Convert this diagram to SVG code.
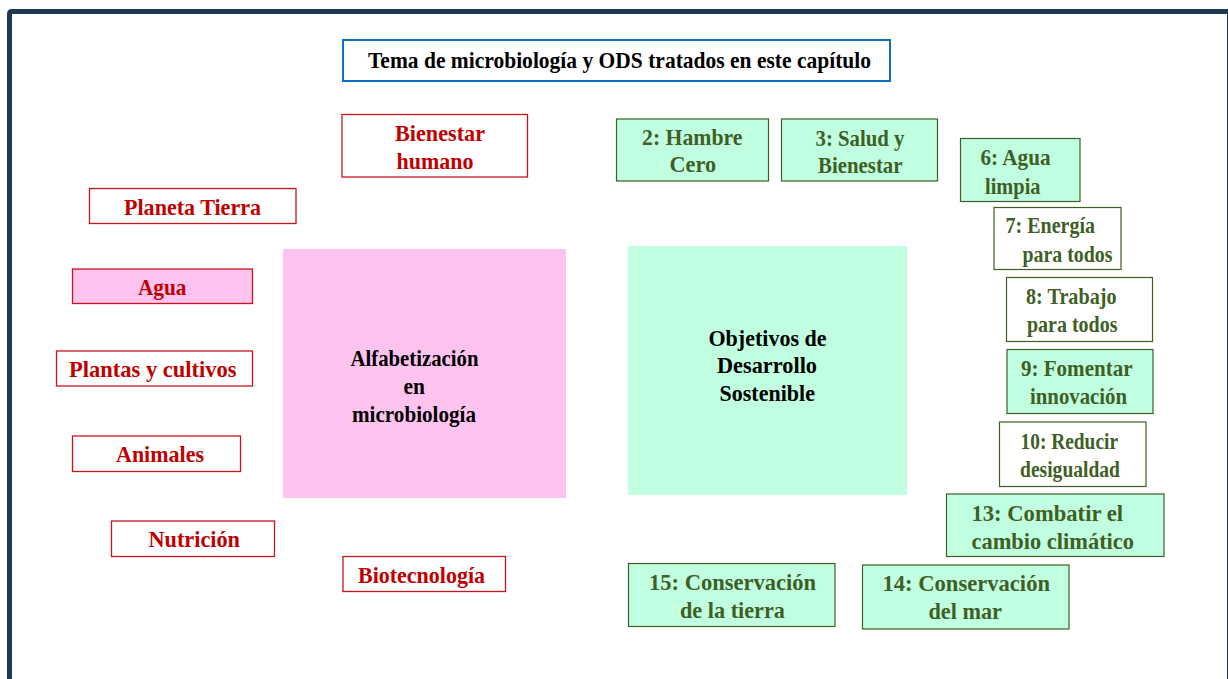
<svg xmlns="http://www.w3.org/2000/svg" width="1228" height="679" viewBox="0 0 1228 679">
<style>
text{font-family:"Liberation Serif","Times New Roman",serif;font-weight:700;font-size:23px}
.k{fill:#000}.r{fill:#c00000}.g{fill:#3f5f26}
.rb{stroke:#c8141c;stroke-width:1.3}
.gb{stroke:#3f5f26;stroke-width:1.2}
.w{fill:#fff}.p{fill:#ffc3ef}.m{fill:#c0ffe0}
</style>
<rect width="1228" height="679" fill="#fff"/>
<path d="M9.500 679V14Q9.500 11.500 12 11.500H1228" fill="none" stroke="#1f3852" stroke-width="5"/>
<path d="M1227.500 12V679" fill="none" stroke="#1f3852" stroke-width="1"/>
<g id="connectors"></g>
<g id="title"><rect x="343" y="40" width="547" height="41" class="w" stroke="#0b70c0" stroke-width="2"/><text x="368" y="68" class="k" textLength="503" lengthAdjust="spacingAndGlyphs">Tema de microbiología y ODS tratados en este capítulo</text></g>
<g id="alfabetizacion"><rect x="283" y="249" width="283" height="249" class="p"/><text x="350.500" y="366" class="k" textLength="128" lengthAdjust="spacingAndGlyphs">Alfabetización</text><text x="403.500" y="394" class="k" textLength="21.500" lengthAdjust="spacingAndGlyphs">en</text><text x="352" y="422" class="k" textLength="124" lengthAdjust="spacingAndGlyphs">microbiología</text></g>
<g id="ods"><rect x="628" y="246" width="279" height="249" class="m"/><text x="708.500" y="346" class="k" textLength="118" lengthAdjust="spacingAndGlyphs">Objetivos de</text><text x="717" y="373" class="k" textLength="100" lengthAdjust="spacingAndGlyphs">Desarrollo</text><text x="719.500" y="401" class="k" textLength="95.500" lengthAdjust="spacingAndGlyphs">Sostenible</text></g>
<g id="bienestar"><rect x="342" y="114.500" width="185.500" height="62.500" class="w rb"/><text x="395" y="141" class="r" textLength="90" lengthAdjust="spacingAndGlyphs">Bienestar</text><text x="396.500" y="169" class="r" textLength="77" lengthAdjust="spacingAndGlyphs">humano</text></g>
<g id="planeta"><rect x="89.500" y="188.500" width="206.500" height="35" class="w rb"/><text x="124" y="215" class="r" textLength="137" lengthAdjust="spacingAndGlyphs">Planeta Tierra</text></g>
<g id="agua"><rect x="72.500" y="269" width="180" height="34.500" class="p rb"/><text x="138" y="295" class="r" textLength="48.500" lengthAdjust="spacingAndGlyphs">Agua</text></g>
<g id="plantas"><rect x="56.500" y="351" width="196" height="35" class="w rb"/><text x="69" y="377" class="r" textLength="167.500" lengthAdjust="spacingAndGlyphs">Plantas y cultivos</text></g>
<g id="animales"><rect x="72.500" y="436" width="168" height="35.500" class="w rb"/><text x="116" y="462" class="r" textLength="88" lengthAdjust="spacingAndGlyphs">Animales</text></g>
<g id="nutricion"><rect x="111.500" y="521" width="163" height="35.500" class="w rb"/><text x="148.500" y="547" class="r" textLength="91.500" lengthAdjust="spacingAndGlyphs">Nutrición</text></g>
<g id="biotecnologia"><rect x="343" y="556.500" width="162.500" height="35" class="w rb"/><text x="358" y="583" class="r" textLength="127" lengthAdjust="spacingAndGlyphs">Biotecnología</text></g>
<g id="ods2"><rect x="616.500" y="119" width="152" height="62" class="m gb"/><text x="642" y="145" class="g" textLength="100.500" lengthAdjust="spacingAndGlyphs">2: Hambre</text><text x="669.500" y="172" class="g" textLength="46.500" lengthAdjust="spacingAndGlyphs">Cero</text></g>
<g id="ods3"><rect x="781.500" y="119" width="156" height="62" class="m gb"/><text x="815.500" y="146" class="g" textLength="89" lengthAdjust="spacingAndGlyphs">3: Salud y</text><text x="818" y="173" class="g" textLength="84.500" lengthAdjust="spacingAndGlyphs">Bienestar</text></g>
<g id="ods6"><rect x="960.500" y="138.500" width="119.500" height="63" class="m gb"/><text x="980.500" y="165" class="g" textLength="70" lengthAdjust="spacingAndGlyphs">6: Agua</text><text x="985" y="194" class="g" textLength="55.500" lengthAdjust="spacingAndGlyphs">limpia</text></g>
<g id="ods7"><rect x="994" y="207.500" width="127" height="62" class="w gb"/><text x="1005.500" y="233" class="g" textLength="89.500" lengthAdjust="spacingAndGlyphs">7: Energía</text><text x="1022.500" y="262" class="g" textLength="90" lengthAdjust="spacingAndGlyphs">para todos</text></g>
<g id="ods8"><rect x="1006.500" y="277.500" width="146" height="64" class="w gb"/><text x="1026" y="304" class="g" textLength="90.500" lengthAdjust="spacingAndGlyphs">8: Trabajo</text><text x="1027" y="332" class="g" textLength="90.500" lengthAdjust="spacingAndGlyphs">para todos</text></g>
<g id="ods9"><rect x="1007" y="349.500" width="146" height="64" class="m gb"/><text x="1021" y="376" class="g" textLength="111.500" lengthAdjust="spacingAndGlyphs">9: Fomentar</text><text x="1030" y="404" class="g" textLength="97" lengthAdjust="spacingAndGlyphs">innovación</text></g>
<g id="ods10"><rect x="999.500" y="422" width="146.500" height="64.500" class="w gb"/><text x="1020.500" y="449" class="g" textLength="97.500" lengthAdjust="spacingAndGlyphs">10: Reducir</text><text x="1020" y="477" class="g" textLength="100" lengthAdjust="spacingAndGlyphs">desigualdad</text></g>
<g id="ods13"><rect x="946.500" y="494" width="217.500" height="62.500" class="m gb"/><text x="971.500" y="521" class="g" textLength="151.500" lengthAdjust="spacingAndGlyphs">13: Combatir el</text><text x="971.500" y="549" class="g" textLength="162.500" lengthAdjust="spacingAndGlyphs">cambio climático</text></g>
<g id="ods14"><rect x="862.500" y="565" width="206.500" height="64" class="m gb"/><text x="882.500" y="591" class="g" textLength="167.500" lengthAdjust="spacingAndGlyphs">14: Conservación</text><text x="928.500" y="619" class="g" textLength="73.500" lengthAdjust="spacingAndGlyphs">del mar</text></g>
<g id="ods15"><rect x="628.500" y="563.500" width="206.500" height="63" class="m gb"/><text x="649" y="590" class="g" textLength="167" lengthAdjust="spacingAndGlyphs">15: Conservación</text><text x="680" y="618" class="g" textLength="105" lengthAdjust="spacingAndGlyphs">de la tierra</text></g>
</svg>
